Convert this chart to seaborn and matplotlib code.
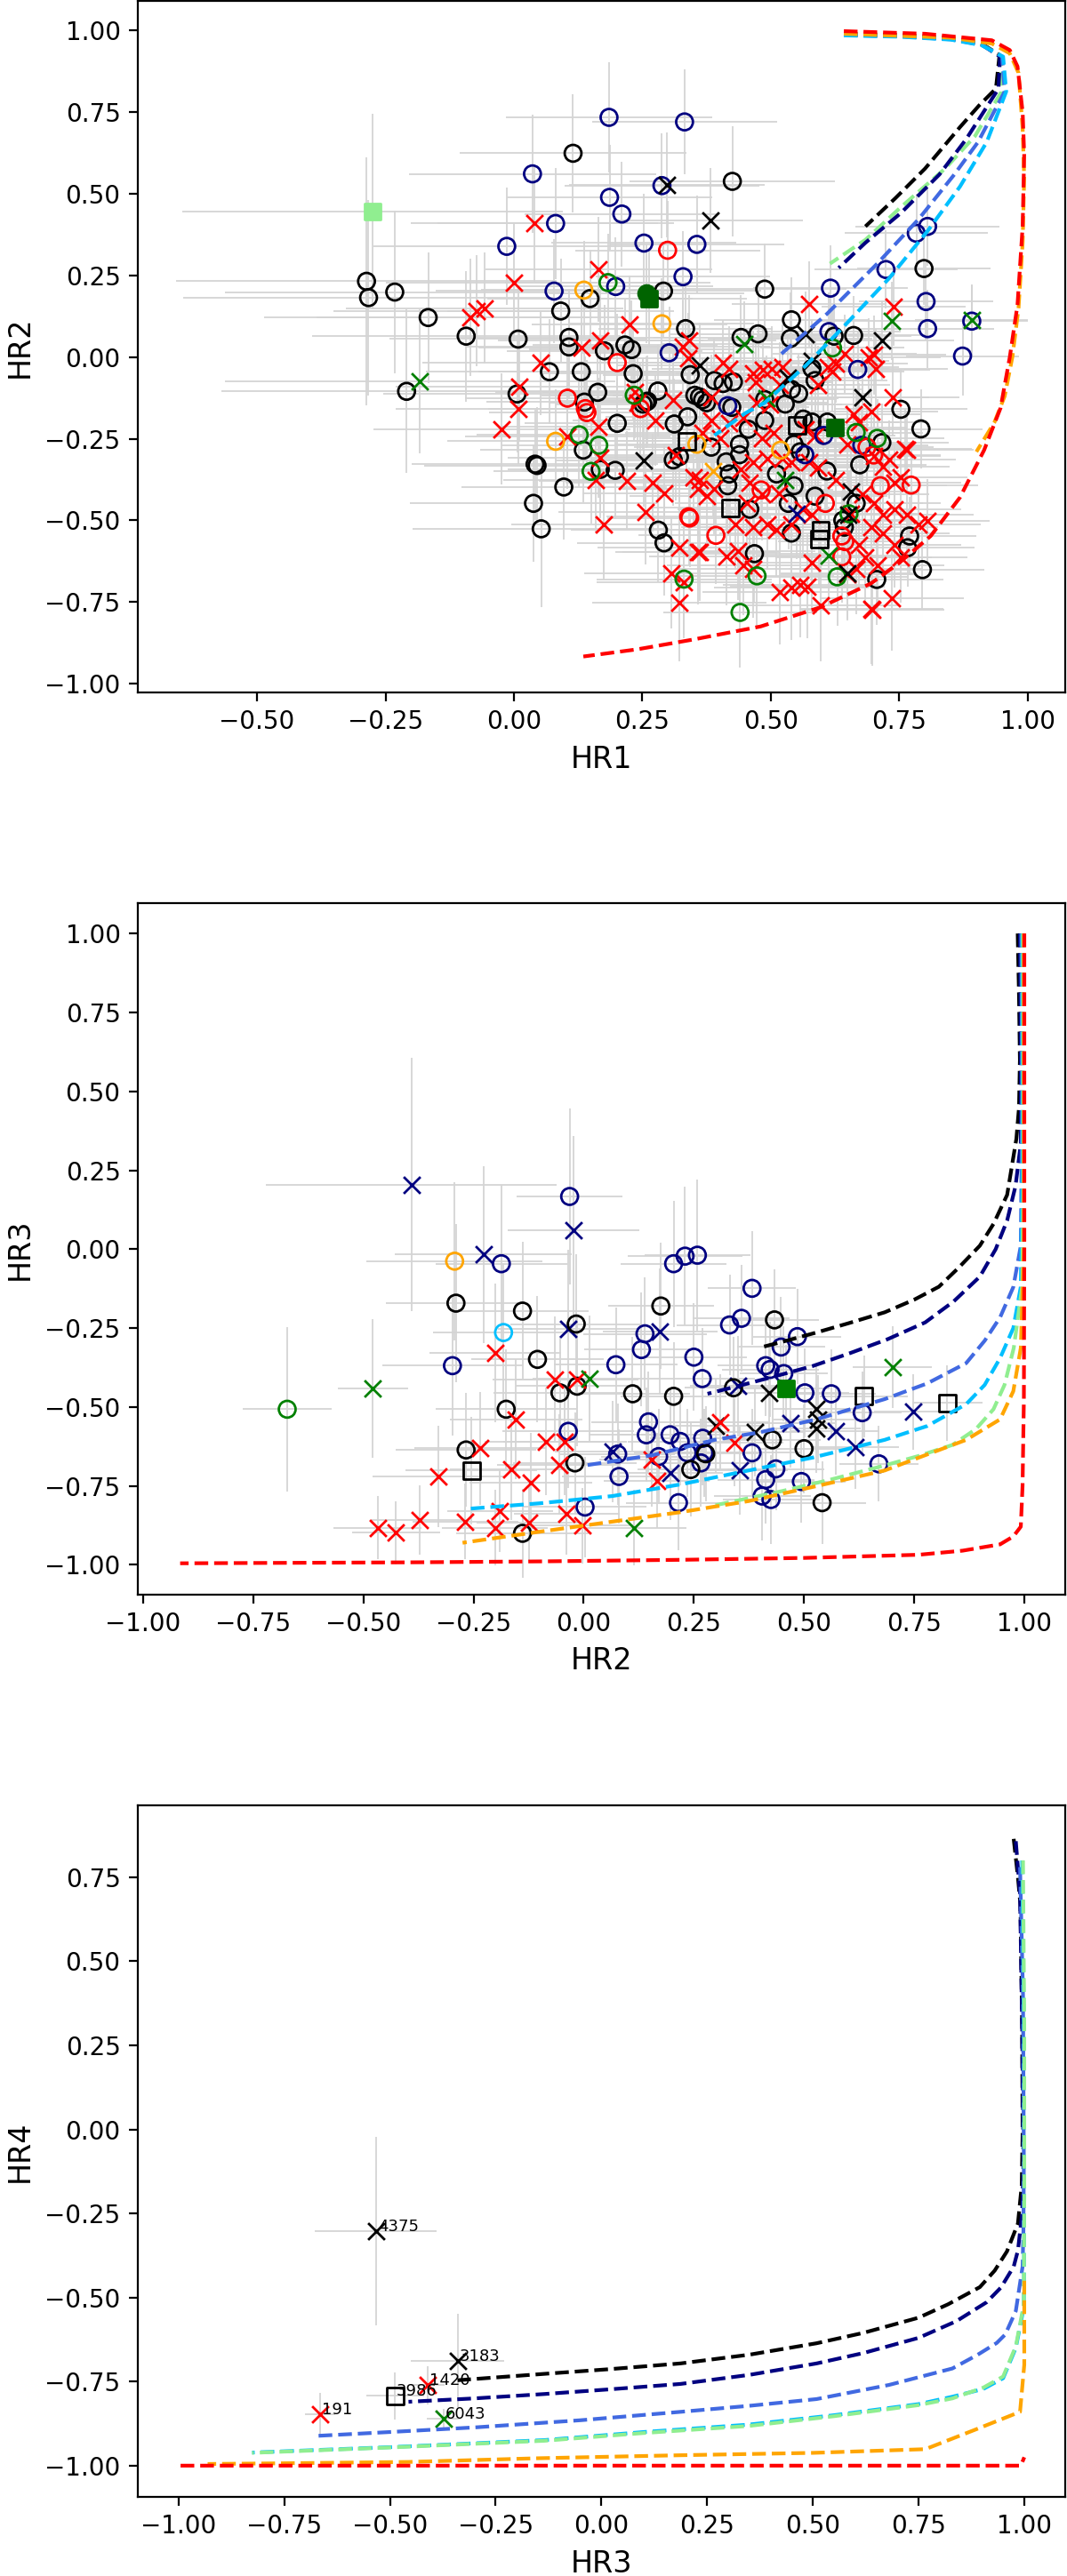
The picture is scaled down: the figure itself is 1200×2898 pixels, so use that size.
import numpy as np
import matplotlib
matplotlib.use("Agg")
import matplotlib.pyplot as plt
import seaborn as sns

# ---------------- Panel 1 (HR1 vs HR2): (x, y, xerr, yerr) ----------------
p1_black_o = [
    (-0.287, 0.232, 0.37, 0.38), (-0.283, 0.182, 0.36, 0.30), (-0.232, 0.199, 0.33, 0.25),
    (-0.167, 0.121, 0.32, 0.20), (-0.093, 0.064, 0.30, 0.20), (0.008, 0.055, 0.25, 0.16),
    (0.091, 0.141, 0.22, 0.16), (0.115, 0.624, 0.22, 0.18), (0.148, 0.179, 0.20, 0.15),
    (0.291, 0.202, 0.19, 0.14), (0.334, 0.087, 0.17, 0.14), (0.107, 0.060, 0.22, 0.15),
    (0.107, 0.031, 0.20, 0.16), (0.176, 0.019, 0.19, 0.14), (0.216, 0.037, 0.18, 0.14),
    (0.229, 0.023, 0.20, 0.15), (0.343, -0.054, 0.17, 0.14), (0.069, -0.045, 0.24, 0.16),
    (0.131, -0.045, 0.20, 0.15), (0.232, -0.051, 0.18, 0.14), (-0.209, -0.105, 0.36, 0.25),
    (0.006, -0.113, 0.26, 0.18), (0.163, -0.108, 0.20, 0.16), (0.280, -0.104, 0.16, 0.14),
    (0.257, -0.138, 0.17, 0.14), (0.425, 0.538, 0.20, 0.17), (0.798, 0.271, 0.13, 0.11),
    (0.488, 0.208, 0.16, 0.14), (0.540, 0.114, 0.15, 0.13), (0.538, 0.057, 0.16, 0.14),
    (0.475, 0.071, 0.17, 0.14), (0.442, 0.060, 0.17, 0.13), (0.623, 0.064, 0.15, 0.13),
    (0.661, 0.066, 0.14, 0.12), (0.580, -0.035, 0.15, 0.13), (0.586, -0.072, 0.14, 0.13),
    (0.753, -0.160, 0.13, 0.12), (0.792, -0.220, 0.12, 0.12), (0.135, -0.285, 0.20, 0.16),
    (0.041, -0.328, 0.24, 0.17), (0.045, -0.332, 0.22, 0.18), (0.097, -0.398, 0.20, 0.16),
    (0.038, -0.448, 0.24, 0.18), (0.053, -0.526, 0.25, 0.24), (0.168, -0.344, 0.18, 0.15),
    (0.197, -0.347, 0.17, 0.15), (0.201, -0.203, 0.18, 0.14), (0.137, -0.138, 0.19, 0.15),
    (0.310, -0.315, 0.16, 0.14), (0.322, -0.305, 0.16, 0.14), (0.338, -0.183, 0.16, 0.13),
    (0.312, -0.205, 0.16, 0.14), (0.281, -0.530, 0.17, 0.16), (0.292, -0.569, 0.17, 0.16),
    (0.251, -0.144, 0.17, 0.14), (0.260, -0.135, 0.17, 0.14), (0.352, -0.117, 0.16, 0.13),
    (0.367, -0.131, 0.16, 0.13), (0.390, -0.072, 0.15, 0.13), (0.407, -0.081, 0.15, 0.12),
    (0.427, -0.076, 0.15, 0.13), (0.540, -0.099, 0.14, 0.12), (0.554, -0.112, 0.14, 0.12),
    (0.488, -0.130, 0.14, 0.13), (0.375, -0.140, 0.15, 0.13), (0.424, -0.154, 0.15, 0.13),
    (0.528, -0.144, 0.14, 0.12), (0.563, -0.190, 0.14, 0.12), (0.580, -0.199, 0.14, 0.12),
    (0.488, -0.194, 0.14, 0.13), (0.456, -0.221, 0.15, 0.13), (0.439, -0.267, 0.15, 0.13),
    (0.384, -0.276, 0.15, 0.14), (0.545, -0.267, 0.14, 0.13), (0.557, -0.290, 0.14, 0.13),
    (0.413, -0.321, 0.15, 0.14), (0.419, -0.358, 0.15, 0.14), (0.416, -0.394, 0.15, 0.14),
    (0.439, -0.299, 0.15, 0.13), (0.511, -0.358, 0.14, 0.13), (0.545, -0.394, 0.14, 0.13),
    (0.586, -0.426, 0.14, 0.13), (0.609, -0.349, 0.14, 0.13), (0.534, -0.448, 0.14, 0.14),
    (0.540, -0.539, 0.14, 0.14), (0.459, -0.466, 0.14, 0.14), (0.468, -0.602, 0.15, 0.15),
    (0.610, -0.199, 0.14, 0.12), (0.716, -0.262, 0.13, 0.12), (0.673, -0.330, 0.13, 0.12),
    (0.666, -0.448, 0.13, 0.13), (0.643, -0.521, 0.13, 0.13), (0.770, -0.548, 0.13, 0.12),
    (0.766, -0.584, 0.13, 0.12), (0.795, -0.651, 0.12, 0.12), (0.706, -0.681, 0.13, 0.14),
    (0.361, -0.122, 0.15, 0.13), (0.640, -0.500, 0.13, 0.13),
]
p1_red_x = [
    (0.040, 0.411, 0.24, 0.18), (0.165, 0.268, 0.22, 0.16), (-0.085, 0.121, 0.30, 0.18),
    (-0.072, 0.141, 0.28, 0.17), (-0.057, 0.149, 0.27, 0.17), (0.000, 0.228, 0.25, 0.18),
    (0.225, 0.099, 0.19, 0.15), (0.131, 0.028, 0.20, 0.15), (0.168, 0.051, 0.20, 0.15),
    (0.329, 0.032, 0.17, 0.14), (0.341, 0.051, 0.17, 0.14), (0.339, -0.004, 0.17, 0.14),
    (0.051, -0.017, 0.23, 0.16), (0.010, -0.090, 0.24, 0.17), (0.236, -0.108, 0.18, 0.14),
    (0.309, -0.131, 0.17, 0.14), (0.574, 0.162, 0.15, 0.13), (0.739, 0.155, 0.14, 0.12),
    (0.643, 0.010, 0.14, 0.12), (0.690, 0.000, 0.14, 0.12), (0.701, 0.006, 0.14, 0.12),
    (0.704, -0.035, 0.14, 0.12), (0.610, -0.030, 0.14, 0.12), (0.619, -0.045, 0.14, 0.12),
    (0.627, -0.020, 0.14, 0.12), (0.737, -0.122, 0.13, 0.12), (-0.024, -0.220, 0.25, 0.17),
    (0.009, -0.158, 0.24, 0.17), (0.104, -0.244, 0.20, 0.16), (0.159, -0.376, 0.18, 0.16),
    (0.168, -0.308, 0.18, 0.16), (0.165, -0.214, 0.19, 0.15), (0.219, -0.378, 0.17, 0.15),
    (0.270, -0.385, 0.17, 0.15), (0.293, -0.416, 0.16, 0.15), (0.256, -0.475, 0.17, 0.16),
    (0.175, -0.512, 0.18, 0.17), (0.315, -0.300, 0.16, 0.14), (0.275, -0.194, 0.16, 0.14),
    (0.322, -0.583, 0.16, 0.16), (0.358, -0.598, 0.16, 0.16), (0.306, -0.661, 0.17, 0.17),
    (0.331, -0.690, 0.17, 0.17), (0.322, -0.752, 0.17, 0.18), (0.349, -0.367, 0.15, 0.14),
    (0.358, -0.403, 0.15, 0.14), (0.375, -0.426, 0.15, 0.14), (0.240, -0.140, 0.17, 0.14),
    (0.407, -0.017, 0.15, 0.13), (0.419, -0.036, 0.15, 0.13), (0.465, -0.049, 0.15, 0.13),
    (0.485, -0.040, 0.15, 0.13), (0.502, -0.036, 0.14, 0.13), (0.522, -0.031, 0.14, 0.13),
    (0.470, -0.076, 0.15, 0.13), (0.517, -0.085, 0.14, 0.13), (0.592, -0.085, 0.14, 0.12),
    (0.384, -0.122, 0.15, 0.13), (0.384, -0.194, 0.15, 0.13), (0.419, -0.203, 0.15, 0.13),
    (0.447, -0.185, 0.15, 0.13), (0.473, -0.140, 0.14, 0.13), (0.498, -0.145, 0.14, 0.13),
    (0.367, -0.231, 0.15, 0.13), (0.401, -0.249, 0.15, 0.13), (0.482, -0.249, 0.14, 0.13),
    (0.505, -0.231, 0.14, 0.13), (0.586, -0.240, 0.14, 0.12), (0.568, -0.222, 0.14, 0.12),
    (0.465, -0.321, 0.14, 0.13), (0.493, -0.312, 0.14, 0.13), (0.522, -0.312, 0.14, 0.13),
    (0.540, -0.321, 0.14, 0.13), (0.574, -0.321, 0.14, 0.13), (0.592, -0.339, 0.14, 0.13),
    (0.626, -0.376, 0.14, 0.13), (0.361, -0.376, 0.15, 0.14), (0.390, -0.403, 0.15, 0.14),
    (0.441, -0.345, 0.15, 0.14), (0.459, -0.385, 0.14, 0.14), (0.482, -0.421, 0.14, 0.14),
    (0.516, -0.417, 0.14, 0.14), (0.453, -0.448, 0.14, 0.14), (0.580, -0.484, 0.14, 0.14),
    (0.563, -0.465, 0.14, 0.14), (0.493, -0.512, 0.14, 0.14), (0.465, -0.521, 0.14, 0.14),
    (0.430, -0.512, 0.14, 0.14), (0.511, -0.530, 0.14, 0.14), (0.540, -0.512, 0.14, 0.14),
    (0.661, -0.176, 0.13, 0.12), (0.695, -0.167, 0.13, 0.12), (0.672, -0.200, 0.13, 0.12),
    (0.649, -0.267, 0.13, 0.12), (0.701, -0.303, 0.13, 0.12), (0.730, -0.315, 0.13, 0.12),
    (0.753, -0.367, 0.13, 0.12), (0.741, -0.385, 0.13, 0.12), (0.762, -0.280, 0.13, 0.12),
    (0.765, -0.285, 0.13, 0.12), (0.718, -0.335, 0.13, 0.12), (0.678, -0.421, 0.13, 0.13),
    (0.701, -0.448, 0.13, 0.13), (0.718, -0.484, 0.13, 0.13), (0.741, -0.466, 0.13, 0.13),
    (0.765, -0.484, 0.13, 0.13), (0.788, -0.512, 0.12, 0.13), (0.805, -0.503, 0.12, 0.13),
    (0.695, -0.521, 0.13, 0.13), (0.718, -0.539, 0.13, 0.13), (0.741, -0.575, 0.13, 0.13),
    (0.753, -0.612, 0.13, 0.14), (0.672, -0.575, 0.13, 0.14), (0.684, -0.612, 0.13, 0.14),
    (0.707, -0.639, 0.13, 0.14), (0.666, -0.648, 0.13, 0.14), (0.649, -0.666, 0.13, 0.14),
    (0.655, -0.480, 0.13, 0.13), (0.361, -0.598, 0.15, 0.15), (0.413, -0.611, 0.15, 0.15),
    (0.436, -0.593, 0.15, 0.15), (0.447, -0.639, 0.15, 0.15), (0.465, -0.648, 0.15, 0.15),
    (0.580, -0.630, 0.14, 0.15), (0.517, -0.720, 0.15, 0.16), (0.540, -0.707, 0.15, 0.16),
    (0.557, -0.698, 0.15, 0.16), (0.571, -0.702, 0.15, 0.16), (0.597, -0.761, 0.15, 0.17),
    (0.695, -0.770, 0.14, 0.17), (0.697, -0.775, 0.14, 0.17), (0.736, -0.739, 0.14, 0.16),
]
p1_navy_o = [
    (0.185, 0.734, 0.20, 0.17), (0.332, 0.720, 0.18, 0.16), (0.036, 0.561, 0.24, 0.18),
    (0.186, 0.489, 0.20, 0.16), (0.210, 0.438, 0.19, 0.16), (0.081, 0.409, 0.23, 0.17),
    (-0.014, 0.339, 0.26, 0.18), (0.253, 0.349, 0.18, 0.15), (0.356, 0.345, 0.17, 0.15),
    (0.329, 0.246, 0.17, 0.14), (0.078, 0.202, 0.23, 0.16), (0.198, 0.216, 0.19, 0.15),
    (0.302, 0.013, 0.17, 0.14), (0.288, 0.525, 0.19, 0.16), (0.783, 0.379, 0.14, 0.12),
    (0.805, 0.400, 0.14, 0.12), (0.724, 0.268, 0.14, 0.12), (0.616, 0.211, 0.15, 0.13),
    (0.802, 0.170, 0.13, 0.12), (0.805, 0.087, 0.13, 0.12), (0.873, 0.003, 0.11, 0.12),
    (0.891, 0.110, 0.11, 0.11), (0.613, 0.078, 0.14, 0.12), (0.669, -0.038, 0.14, 0.12),
    (0.416, -0.149, 0.15, 0.13), (0.603, -0.240, 0.14, 0.12), (0.677, -0.270, 0.13, 0.12),
    (0.566, -0.299, 0.14, 0.13),
]
p1_red_o = [
    (0.299, 0.327, 0.18, 0.15), (0.201, -0.017, 0.19, 0.15), (0.104, -0.126, 0.20, 0.16),
    (0.139, -0.158, 0.19, 0.16), (0.142, -0.170, 0.19, 0.16), (0.246, -0.158, 0.17, 0.14),
    (0.340, -0.489, 0.16, 0.15), (0.342, -0.493, 0.16, 0.15), (0.687, -0.276, 0.13, 0.12),
    (0.713, -0.394, 0.13, 0.13), (0.773, -0.392, 0.13, 0.12), (0.393, -0.546, 0.15, 0.15),
    (0.481, -0.407, 0.14, 0.14), (0.606, -0.448, 0.14, 0.14), (0.638, -0.548, 0.13, 0.14),
    (0.644, -0.565, 0.13, 0.14), (0.638, -0.612, 0.13, 0.14), (0.700, -0.300, 0.13, 0.12),
]
p1_orange_o = [
    (0.136, 0.205, 0.20, 0.15), (0.288, 0.102, 0.18, 0.14), (0.081, -0.258, 0.21, 0.16),
    (0.356, -0.267, 0.16, 0.14), (0.519, -0.285, 0.14, 0.13),
]
p1_green_o = [
    (0.183, 0.228, 0.20, 0.15), (0.234, -0.117, 0.18, 0.14), (0.127, -0.238, 0.20, 0.16),
    (0.165, -0.270, 0.19, 0.16), (0.150, -0.350, 0.19, 0.16), (0.620, 0.028, 0.14, 0.12),
    (0.666, -0.231, 0.13, 0.12), (0.707, -0.249, 0.13, 0.12), (0.331, -0.680, 0.17, 0.17),
    (0.473, -0.670, 0.15, 0.16), (0.629, -0.673, 0.14, 0.15), (0.440, -0.782, 0.15, 0.17),
    (0.652, -0.480, 0.13, 0.13),
]
p1_black_x = [
    (0.298, 0.527, 0.19, 0.16), (0.382, 0.418, 0.18, 0.16), (0.361, -0.026, 0.16, 0.13),
    (0.567, 0.071, 0.15, 0.13), (0.717, 0.052, 0.14, 0.12), (0.580, -0.013, 0.15, 0.13),
    (0.533, -0.063, 0.14, 0.13), (0.678, -0.122, 0.13, 0.12), (0.252, -0.317, 0.17, 0.14),
    (0.655, -0.412, 0.13, 0.13), (0.649, -0.661, 0.13, 0.14), (0.650, -0.484, 0.13, 0.13),
]
p1_green_x = [
    (-0.183, -0.075, 0.38, 0.22), (0.449, 0.040, 0.16, 0.13), (0.735, 0.110, 0.14, 0.12),
    (0.891, 0.113, 0.11, 0.11), (0.528, -0.376, 0.14, 0.13), (0.612, -0.607, 0.14, 0.15),
    (0.491, -0.126, 0.14, 0.13),
]
p1_navy_x = [(0.551, -0.480, 0.14, 0.14)]
p1_orange_x = [(0.387, -0.349, 0.15, 0.14)]
p1_black_s = [
    (0.336, -0.258, 0.16, 0.14), (0.551, -0.208, 0.14, 0.12), (0.421, -0.462, 0.15, 0.14),
    (0.597, -0.530, 0.14, 0.14), (0.594, -0.557, 0.14, 0.14),
]
p1_dkgreen_fo = [(0.258, 0.194, 0.19, 0.15)]
p1_dkgreen_fs = [(0.263, 0.178, 0.19, 0.15), (0.625, -0.217, 0.14, 0.12)]
p1_ltgreen_fs = [(-0.275, 0.445, 0.37, 0.30)]

# model tracks, panel 1
p1_tracks = {
    "black": ([0.642, 0.75, 0.85, 0.91, 0.945, 0.938, 0.905, 0.868, 0.80, 0.742, 0.684],
              [0.99, 0.986, 0.977, 0.96, 0.925, 0.822, 0.77, 0.704, 0.577, 0.486, 0.400]),
    "lightgreen": ([0.642, 0.75, 0.85, 0.91, 0.948, 0.949, 0.897, 0.839, 0.753, 0.684, 0.615],
                   [0.988, 0.984, 0.975, 0.958, 0.92, 0.813, 0.676, 0.577, 0.459, 0.359, 0.286]),
    "navy": ([0.642, 0.75, 0.85, 0.91, 0.946, 0.943, 0.880, 0.828, 0.753, 0.684, 0.632],
             [0.986, 0.983, 0.974, 0.957, 0.92, 0.822, 0.667, 0.559, 0.441, 0.350, 0.273]),
    "royalblue": ([0.642, 0.75, 0.85, 0.91, 0.95, 0.955, 0.903, 0.857, 0.788, 0.707, 0.609, 0.517],
                  [0.986, 0.982, 0.973, 0.956, 0.92, 0.813, 0.658, 0.559, 0.423, 0.286, 0.132, 0.005]),
    "deepskyblue": ([0.642, 0.75, 0.85, 0.91, 0.952, 0.958, 0.920, 0.868, 0.805, 0.730, 0.638,
                     0.568, 0.488, 0.450, 0.390],
                    [0.985, 0.981, 0.972, 0.955, 0.92, 0.813, 0.658, 0.522, 0.386, 0.241, 0.087,
                     -0.026, -0.140, -0.172, -0.240]),
    "orange": ([0.642, 0.85, 0.93, 0.965, 0.982, 0.99, 0.993, 0.99, 0.982, 0.97, 0.955, 0.935, 0.90],
               [0.99, 0.978, 0.96, 0.93, 0.87, 0.70, 0.55, 0.35, 0.15, 0.0, -0.12, -0.20, -0.29]),
    "red": ([0.642, 0.80, 0.93, 0.965, 0.98, 0.99, 0.993, 0.99, 0.98, 0.965, 0.947, 0.915, 0.868,
             0.811, 0.75, 0.695, 0.597, 0.48, 0.349, 0.24, 0.135],
            [0.998, 0.99, 0.97, 0.94, 0.89, 0.75, 0.62, 0.40, 0.16, 0.0, -0.156, -0.285, -0.43,
             -0.548, -0.63, -0.693, -0.766, -0.825, -0.865, -0.895, -0.917]),
}

# ---------------- Panel 2 (HR2 vs HR3) ----------------
p2_navy_o = [
    (-0.032, 0.167, 0.12, 0.28), (-0.187, -0.046, 0.15, 0.25), (0.204, -0.046, 0.12, 0.20),
    (0.230, -0.022, 0.13, 0.22), (0.258, -0.019, 0.12, 0.24), (0.382, -0.124, 0.10, 0.18),
    (0.331, -0.240, 0.12, 0.16), (0.358, -0.219, 0.11, 0.17), (0.139, -0.268, 0.14, 0.18),
    (0.131, -0.318, 0.13, 0.18), (0.485, -0.277, 0.10, 0.15), (0.448, -0.310, 0.10, 0.16),
    (0.250, -0.342, 0.12, 0.17), (0.073, -0.366, 0.14, 0.18), (-0.298, -0.369, 0.16, 0.22),
    (0.413, -0.369, 0.11, 0.16), (0.423, -0.381, 0.11, 0.15), (0.454, -0.394, 0.10, 0.15),
    (0.269, -0.410, 0.12, 0.16), (0.502, -0.455, 0.10, 0.14), (0.562, -0.458, 0.10, 0.14),
    (0.632, -0.518, 0.09, 0.13), (0.147, -0.547, 0.13, 0.16), (0.142, -0.588, 0.13, 0.15),
    (0.196, -0.588, 0.12, 0.15), (0.219, -0.609, 0.12, 0.14), (-0.035, -0.577, 0.15, 0.18),
    (0.235, -0.645, 0.12, 0.14), (0.270, -0.599, 0.12, 0.15), (0.273, -0.645, 0.12, 0.14),
    (0.266, -0.677, 0.12, 0.14), (0.170, -0.657, 0.13, 0.15), (0.077, -0.649, 0.13, 0.16),
    (0.080, -0.720, 0.13, 0.15), (0.382, -0.645, 0.11, 0.14), (0.436, -0.696, 0.11, 0.13),
    (0.413, -0.730, 0.11, 0.14), (0.494, -0.736, 0.10, 0.13), (0.670, -0.680, 0.09, 0.12),
    (0.405, -0.782, 0.11, 0.14), (0.425, -0.793, 0.11, 0.14), (0.215, -0.803, 0.12, 0.15),
    (0.003, -0.817, 0.14, 0.16),
]
p2_navy_x = [
    (-0.391, 0.205, 0.33, 0.40), (-0.228, -0.017, 0.20, 0.28), (-0.023, 0.059, 0.15, 0.30),
    (-0.035, -0.252, 0.16, 0.25), (0.173, -0.261, 0.13, 0.20), (0.351, -0.434, 0.11, 0.16),
    (0.470, -0.551, 0.10, 0.14), (0.572, -0.575, 0.10, 0.14), (0.616, -0.628, 0.10, 0.13),
    (0.748, -0.515, 0.09, 0.12), (0.196, -0.709, 0.12, 0.15), (0.354, -0.701, 0.11, 0.14),
    (0.065, -0.641, 0.13, 0.16),
]
p2_black_o = [
    (-0.290, -0.171, 0.16, 0.25), (-0.139, -0.196, 0.15, 0.22), (0.175, -0.180, 0.12, 0.20),
    (0.433, -0.224, 0.10, 0.16), (-0.017, -0.237, 0.15, 0.22), (-0.105, -0.349, 0.15, 0.20),
    (-0.054, -0.455, 0.15, 0.18), (-0.015, -0.434, 0.14, 0.19), (0.111, -0.458, 0.13, 0.18),
    (0.204, -0.466, 0.12, 0.17), (-0.176, -0.507, 0.16, 0.19), (0.340, -0.439, 0.11, 0.16),
    (-0.267, -0.636, 0.16, 0.18), (-0.020, -0.677, 0.14, 0.16), (0.428, -0.604, 0.11, 0.14),
    (0.500, -0.632, 0.10, 0.14), (0.243, -0.698, 0.12, 0.15), (0.277, -0.648, 0.12, 0.15),
    (0.541, -0.803, 0.10, 0.13), (-0.139, -0.900, 0.15, 0.14),
]
p2_black_x = [
    (0.300, -0.560, 0.11, 0.15), (0.389, -0.580, 0.11, 0.14), (0.420, -0.455, 0.11, 0.15),
    (0.528, -0.507, 0.10, 0.14), (0.531, -0.539, 0.10, 0.14), (0.528, -0.568, 0.10, 0.14),
]
p2_black_s = [(-0.255, -0.701, 0.15, 0.17), (0.636, -0.466, 0.10, 0.13), (0.825, -0.487, 0.08, 0.12)]
p2_dkgreen_fs = [(0.459, -0.442, 0.10, 0.14)]
p2_red_x = [
    (-0.201, -0.329, 0.15, 0.22), (-0.066, -0.413, 0.14, 0.20), (-0.015, -0.413, 0.14, 0.20),
    (-0.154, -0.539, 0.15, 0.19), (-0.235, -0.631, 0.15, 0.18), (-0.085, -0.609, 0.14, 0.17),
    (-0.043, -0.609, 0.14, 0.17), (-0.329, -0.720, 0.15, 0.16), (-0.164, -0.698, 0.14, 0.16),
    (-0.120, -0.741, 0.14, 0.16), (-0.056, -0.682, 0.14, 0.16), (0.155, -0.665, 0.12, 0.15),
    (0.166, -0.733, 0.12, 0.15), (0.309, -0.547, 0.11, 0.15), (0.343, -0.612, 0.11, 0.14),
    (-0.468, -0.882, 0.10, 0.10), (-0.426, -0.898, 0.10, 0.10), (-0.372, -0.858, 0.11, 0.11),
    (-0.269, -0.863, 0.12, 0.12), (-0.190, -0.830, 0.12, 0.13), (-0.201, -0.882, 0.12, 0.12),
    (-0.124, -0.867, 0.12, 0.12), (-0.039, -0.838, 0.12, 0.13), (-0.004, -0.876, 0.12, 0.12),
]
p2_green_x = [(-0.479, -0.442, 0.08, 0.22), (0.014, -0.410, 0.13, 0.20),
              (0.701, -0.373, 0.09, 0.13), (0.114, -0.882, 0.12, 0.12)]
p2_green_o = [(-0.673, -0.507, 0.10, 0.26)]
p2_orange_o = [(-0.293, -0.038, 0.20, 0.25)]
p2_sky_o = [(-0.182, -0.264, 0.16, 0.22)]

p2_tracks = {
    "black": ([0.985, 0.988, 0.99, 0.988, 0.982, 0.961, 0.930, 0.899, 0.85, 0.806, 0.75, 0.683,
               0.60, 0.528, 0.46, 0.405],
              [1.0, 0.80, 0.60, 0.45, 0.35, 0.172, 0.08, 0.011, -0.06, -0.119, -0.16, -0.200,
               -0.235, -0.264, -0.29, -0.310]),
    "navy": ([0.99, 0.992, 0.992, 0.98, 0.961, 0.935, 0.899, 0.84, 0.775, 0.69, 0.605, 0.52,
              0.436, 0.36, 0.281],
             [1.0, 0.6, 0.334, 0.2, 0.091, 0.0, -0.087, -0.165, -0.232, -0.285, -0.329, -0.37,
              -0.402, -0.43, -0.458]),
    "royalblue": ([0.993, 0.995, 0.992, 0.975, 0.945, 0.91, 0.868, 0.78, 0.683, 0.528, 0.40,
                   0.297, 0.158, 0.003],
                  [1.0, 0.5, 0.011, -0.12, -0.216, -0.29, -0.361, -0.425, -0.475, -0.539, -0.58,
                   -0.604, -0.652, -0.685]),
    "deepskyblue": ([0.995, 0.996, 0.992, 0.975, 0.945, 0.91, 0.868, 0.78, 0.683, 0.52, 0.374,
                     0.22, 0.065, -0.10, -0.259],
                    [1.0, 0.3, -0.119, -0.25, -0.345, -0.43, -0.491, -0.56, -0.604, -0.66, -0.701,
                     -0.745, -0.782, -0.805, -0.822]),
    "lightgreen": ([0.997, 0.998, 0.995, 0.976, 0.955, 0.930, 0.89, 0.837, 0.76, 0.683, 0.56,
                    0.451, 0.289],
                   [1.0, 0.2, -0.119, -0.313, -0.43, -0.507, -0.57, -0.620, -0.655, -0.685, -0.73,
                    -0.766, -0.814]),
    "orange": ([0.999, 0.999, 0.992, 0.975, 0.945, 0.868, 0.78, 0.683, 0.53, 0.374, 0.22, 0.065,
                -0.10, -0.275],
               [1.0, 0.0, -0.313, -0.45, -0.539, -0.604, -0.65, -0.701, -0.75, -0.798, -0.833,
                -0.863, -0.895, -0.930]),
    "red": ([1.0, 1.0, 0.999, 0.996, 0.992, 0.975, 0.945, 0.86, 0.760, 0.5, 0.219, -0.10, -0.398,
             -0.916],
            [1.0, 0.0, -0.474, -0.75, -0.879, -0.91, -0.935, -0.955, -0.968, -0.978, -0.984,
             -0.989, -0.992, -0.995]),
}

# ---------------- Panel 3 (HR3 vs HR4) ----------------
p3_black_x = [(-0.533, -0.302, 0.144, 0.28), (-0.340, -0.688, 0.11, 0.139)]
p3_red_x = [(-0.411, -0.760, 0.04, 0.057), (-0.665, -0.848, 0.035, 0.064)]
p3_black_s = [(-0.488, -0.792, 0.068, 0.07)]
p3_green_x = [(-0.373, -0.860, 0.04, 0.03)]
p3_label_x = [-0.533, -0.340, -0.411, -0.665, -0.488, -0.373]
p3_label_y = [-0.302, -0.688, -0.760, -0.848, -0.792, -0.860]
p3_label_txt = ["4375", "3183", "1420", "191", "3986", "6043"]

p3_tracks = {
    "black": ([0.975, 0.985, 0.991, 0.995, 0.996, 0.994, 0.985, 0.959, 0.93, 0.895, 0.82, 0.750,
               0.62, 0.509, 0.35, 0.187, 0.02, -0.135, -0.340],
              [0.864, 0.75, 0.667, 0.3, -0.014, -0.166, -0.28, -0.363, -0.42, -0.469, -0.52,
               -0.560, -0.605, -0.636, -0.67, -0.696, -0.713, -0.727, -0.746]),
    "navy": ([0.980, 0.99, 0.995, 0.998, 0.995, 0.985, 0.975, 0.945, 0.911, 0.84, 0.750, 0.62,
              0.509, 0.35, 0.187, 0.02, -0.135, -0.30, -0.456],
             [0.857, 0.7, 0.3, -0.1, -0.25, -0.36, -0.408, -0.47, -0.514, -0.57, -0.620, -0.665,
              -0.696, -0.73, -0.757, -0.773, -0.787, -0.80, -0.810]),
    "royalblue": ([0.99, 0.997, 0.999, 0.998, 0.996, 0.98, 0.955, 0.935, 0.89, 0.830, 0.68, 0.509,
                   0.35, 0.187, -0.05, -0.296, -0.50, -0.681],
                  [0.78, 0.4, -0.1, -0.3, -0.408, -0.54, -0.61, -0.635, -0.67, -0.711, -0.76,
                   -0.802, -0.822, -0.840, -0.865, -0.886, -0.90, -0.912]),
    "deepskyblue": ([0.995, 0.999, 1.0, 0.999, 0.98, 0.95, 0.903, 0.83, 0.750, 0.55, 0.348, 0.10,
                     -0.135, -0.50, -0.826],
                    [0.80, 0.3, -0.2, -0.529, -0.65, -0.74, -0.772, -0.795, -0.817, -0.85, -0.878,
                     -0.90, -0.924, -0.945, -0.961]),
    "lightgreen": ([0.997, 1.0, 1.0, 0.999, 0.98, 0.95, 0.903, 0.83, 0.750, 0.55, 0.348, 0.10,
                    -0.135, -0.50, -0.826],
                   [0.80, 0.3, -0.2, -0.52, -0.645, -0.735, -0.768, -0.80, -0.820, -0.853, -0.882,
                    -0.903, -0.926, -0.946, -0.962]),
    "orange": ([1.0, 1.0, 0.99, 0.88, 0.766, 0.5, 0.187, -0.15, -0.456, -0.75, -0.931],
               [-0.45, -0.70, -0.84, -0.895, -0.951, -0.962, -0.969, -0.978, -0.989, -0.993,
                -0.995]),
    "red": ([-0.995, 0.0, 0.992, 1.0],
            [-1.0, -1.0, -1.0, -0.975]),
}

# ---------------- drawing ----------------
plt.rcdefaults()
fig = plt.figure(figsize=(6, 14.49), dpi=200)
ax1 = fig.add_axes([0.1292, 0.7312, 0.8692, 0.2685])
ax2 = fig.add_axes([0.1292, 0.3810, 0.8692, 0.2685])
ax3 = fig.add_axes([0.1292, 0.0307, 0.8692, 0.2685])

ECOL = "#d4d4d4"


def errbars(ax, pts):
    a = np.array(pts, dtype=float)
    ax.errorbar(a[:, 0], a[:, 1], xerr=a[:, 2], yerr=a[:, 3], fmt="none",
                ecolor=ECOL, elinewidth=0.65, capsize=0, zorder=1)


def marks(ax, pts, marker, color, style):
    a = np.array(pts, dtype=float)
    kw = dict(marker=marker, s=46, color=color, linewidths=1.0, legend=False, zorder=3)
    if style == "open":
        kw.update(facecolor="none", edgecolor=color)
    elif style == "filled":
        kw.update(edgecolor=color)
    sns.scatterplot(x=a[:, 0], y=a[:, 1], ax=ax, **kw)


def tracks(ax, tr):
    for c, (tx, ty) in tr.items():
        sns.lineplot(x=tx, y=ty, sort=False, estimator=None, color=c, linestyle="--",
                     linewidth=1.5, ax=ax, zorder=4)


p1_sets = [
    (p1_black_o, "o", "black", "open"), (p1_red_x, "x", "red", "line"),
    (p1_navy_o, "o", "navy", "open"), (p1_red_o, "o", "red", "open"),
    (p1_orange_o, "o", "orange", "open"), (p1_green_o, "o", "green", "open"),
    (p1_black_x, "x", "black", "line"), (p1_green_x, "x", "green", "line"),
    (p1_navy_x, "x", "navy", "line"), (p1_orange_x, "x", "orange", "line"),
    (p1_black_s, "s", "black", "open"), (p1_dkgreen_fo, "o", "darkgreen", "filled"),
    (p1_dkgreen_fs, "s", "darkgreen", "filled"), (p1_ltgreen_fs, "s", "lightgreen", "filled"),
]
p2_sets = [
    (p2_navy_o, "o", "navy", "open"), (p2_navy_x, "x", "navy", "line"),
    (p2_black_o, "o", "black", "open"), (p2_black_x, "x", "black", "line"),
    (p2_black_s, "s", "black", "open"), (p2_dkgreen_fs, "s", "green", "filled"),
    (p2_red_x, "x", "red", "line"), (p2_green_x, "x", "green", "line"),
    (p2_green_o, "o", "green", "open"), (p2_orange_o, "o", "orange", "open"),
    (p2_sky_o, "o", "deepskyblue", "open"),
]
p3_sets = [
    (p3_black_x, "x", "black", "line"), (p3_red_x, "x", "red", "line"),
    (p3_black_s, "s", "black", "open"), (p3_green_x, "x", "green", "line"),
]

for ax, sets, tr in [(ax1, p1_sets, p1_tracks), (ax2, p2_sets, p2_tracks), (ax3, p3_sets, p3_tracks)]:
    for pts, m, c, st in sets:
        errbars(ax, pts)
    for pts, m, c, st in sets:
        marks(ax, pts, m, c, st)
    tracks(ax, tr)

for lx, ly, t in zip(p3_label_x, p3_label_y, p3_label_txt):
    ax3.text(lx + 0.004, ly, t, fontsize=6.5, ha="left", va="baseline", zorder=5)

ax1.set_xlim(-0.732, 1.073)
ax1.set_ylim(-1.027, 1.091)
ax1.set_xticks(np.arange(-0.5, 1.01, 0.25))
ax1.set_yticks(np.arange(-1.0, 1.01, 0.25))
ax1.set_xlabel("HR1", fontsize=12)
ax1.set_ylabel("HR2", fontsize=12)

ax2.set_xlim(-1.012, 1.093)
ax2.set_ylim(-1.094, 1.097)
ax2.set_xticks(np.arange(-1.0, 1.01, 0.25))
ax2.set_yticks(np.arange(-1.0, 1.01, 0.25))
ax2.set_xlabel("HR2", fontsize=12)
ax2.set_ylabel("HR3", fontsize=12)

ax3.set_xlim(-1.096, 1.097)
ax3.set_ylim(-1.093, 0.964)
ax3.set_xticks(np.arange(-1.0, 1.01, 0.25))
ax3.set_yticks(np.arange(-1.0, 0.76, 0.25))
ax3.set_xlabel("HR3", fontsize=12)
ax3.set_ylabel("HR4", fontsize=12)

fig.savefig("out.png", dpi=200)
